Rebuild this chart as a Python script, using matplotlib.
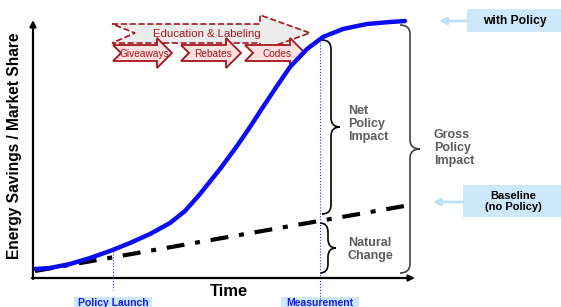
import numpy as np
import matplotlib.pyplot as plt
from matplotlib.path import Path
from matplotlib.patches import PathPatch, Polygon, Rectangle

plt.rcParams['font.family'] = ['Liberation Sans', 'DejaVu Sans']

# --- curve data (schematic, figure pixel units) ---
policy_x = [35, 50, 70, 90, 110, 130, 150, 170, 185, 200, 220, 237, 250, 263, 277, 290, 307, 323, 343, 367, 390, 405]
policy_y = [269, 268, 264, 258, 251, 243, 234, 223, 211, 194, 169, 146, 127, 107, 86, 67, 49, 37, 29, 24, 22, 21]
baseline_x = [35, 410]
baseline_y = [271, 205]

launch_x = 113
measure_x = 320

programs = ['Giveaways', 'Rebates', 'Codes']
prog_left = [113, 181, 245]
prog_tip = [172, 241, 305]

dark_red = '#a3161c'
light_blue = '#cce8fa'
grey_txt = '#5c5c5c'

fig = plt.figure(figsize=(5.61, 3.07), dpi=100)
ax = fig.add_axes([0, 0, 1, 1])
ax.set_xlim(0, 561)
ax.set_ylim(307, 0)
ax.axis('off')

# --- axes arrows ---
ax.annotate('', xy=(33, 20), xytext=(33, 279),
            arrowprops=dict(arrowstyle='-|>', color='black', lw=1.6, mutation_scale=9, shrinkA=0, shrinkB=0))
ax.annotate('', xy=(415, 278), xytext=(32, 278),
            arrowprops=dict(arrowstyle='-|>', color='black', lw=1.6, mutation_scale=9, shrinkA=0, shrinkB=0))

ax.text(15, 146, 'Energy Savings / Market Share', rotation=90, ha='center', va='center',
        fontsize=11.2, fontweight='bold')
ax.text(229, 291, 'Time', ha='center', va='center', fontsize=12, fontweight='bold')

# --- vertical event lines ---
ax.plot([launch_x, launch_x], [251, 290], color='#2233ff', lw=0.8, ls=':')
ax.plot([measure_x, measure_x], [39, 300], color='#2233ff', lw=0.8, ls=':')

# --- curves ---
ax.plot(baseline_x, baseline_y, color='black', lw=3, dashes=(4.3, 2.6, 1.2, 2.6))
ax.plot(policy_x, policy_y, color='#0b0bf5', lw=3.2, solid_capstyle='round', solid_joinstyle='round')

# --- event labels ---
for xc, lab in [(launch_x, 'Policy Launch'), (measure_x, 'Measurement')]:
    ax.add_patch(Rectangle((xc - 39, 296.5), 78, 12, color=light_blue, lw=0))
    ax.text(xc, 303.5, lab, ha='center', va='center', fontsize=7.5, fontweight='bold', color='#1a1aee')


# --- braces ---
def brace(x, y0, y1, w, color):
    ym = (y0 + y1) / 2
    r = 9
    verts = [(x - w, y0), (x, y0), (x, y0 + r),
             (x, ym - r), (x, ym), (x + w, ym),
             (x, ym), (x, ym + r),
             (x, y1 - r), (x, y1), (x - w, y1)]
    codes = [Path.MOVETO, Path.CURVE3, Path.CURVE3,
             Path.LINETO, Path.CURVE3, Path.CURVE3,
             Path.CURVE3, Path.CURVE3,
             Path.LINETO, Path.CURVE3, Path.CURVE3]
    ax.add_patch(PathPatch(Path(verts, codes), fill=False, color=color, lw=1.2))


brace(331, 40, 214, 9, 'black')
brace(328, 223, 273, 8, 'black')
brace(410, 25, 273, 10, '#444444')

ax.text(348, 124, 'Net\nPolicy\nImpact', ha='left', va='center', fontsize=9, fontweight='bold',
        color=grey_txt, linespacing=1.15)
ax.text(348, 249.5, 'Natural\nChange', ha='left', va='center', fontsize=9, fontweight='bold',
        color=grey_txt, linespacing=1.15)
ax.text(434, 148, 'Gross\nPolicy\nImpact', ha='left', va='center', fontsize=9, fontweight='bold',
        color=grey_txt, linespacing=1.15)

# --- right-side labels ---
ax.add_patch(Rectangle((467, 9), 94, 23, color=light_blue, lw=0))
ax.text(515, 21, 'with Policy', ha='center', va='center', fontsize=8.7, fontweight='bold')
ax.annotate('', xy=(439, 21), xytext=(467, 21),
            arrowprops=dict(arrowstyle='-|>', color='#bfe0f7', lw=2, mutation_scale=10, shrinkA=0, shrinkB=0))

ax.add_patch(Rectangle((463, 185), 98, 32, color=light_blue, lw=0))
ax.text(513, 201.5, 'Baseline\n(no Policy)', ha='center', va='center', fontsize=8, fontweight='bold',
        linespacing=1.15)
ax.annotate('', xy=(433, 202), xytext=(463, 202),
            arrowprops=dict(arrowstyle='-|>', color='#bfe0f7', lw=2, mutation_scale=10, shrinkA=0, shrinkB=0))

# --- program arrows ---
edu = Polygon([(112, 24), (260, 24), (260, 15), (310, 33), (260, 51), (260, 43), (112, 43), (135, 33)],
              closed=True, facecolor='#ececec', edgecolor=dark_red, lw=1.2, ls='--')
ax.add_patch(edu)
ax.text(207, 34, 'Education & Labeling', ha='center', va='center', fontsize=8.2,
        color=dark_red)

for name, xl, xt in zip(programs, prog_left, prog_tip):
    xh = xt - 15
    ym = 53
    pts = [(xl, 45), (xh, 45), (xh, 38), (xt, ym), (xh, 68), (xh, 61), (xl, 61), (xl + 8, ym)]
    ax.add_patch(Polygon(pts, closed=True, facecolor='#fde0e0', edgecolor=dark_red, lw=1.3))
    ax.text((xl + xt) / 2 + 2, ym + 1, name, ha='center', va='center', fontsize=7.3,
            color=dark_red)

fig.savefig('out.png', dpi=100)
